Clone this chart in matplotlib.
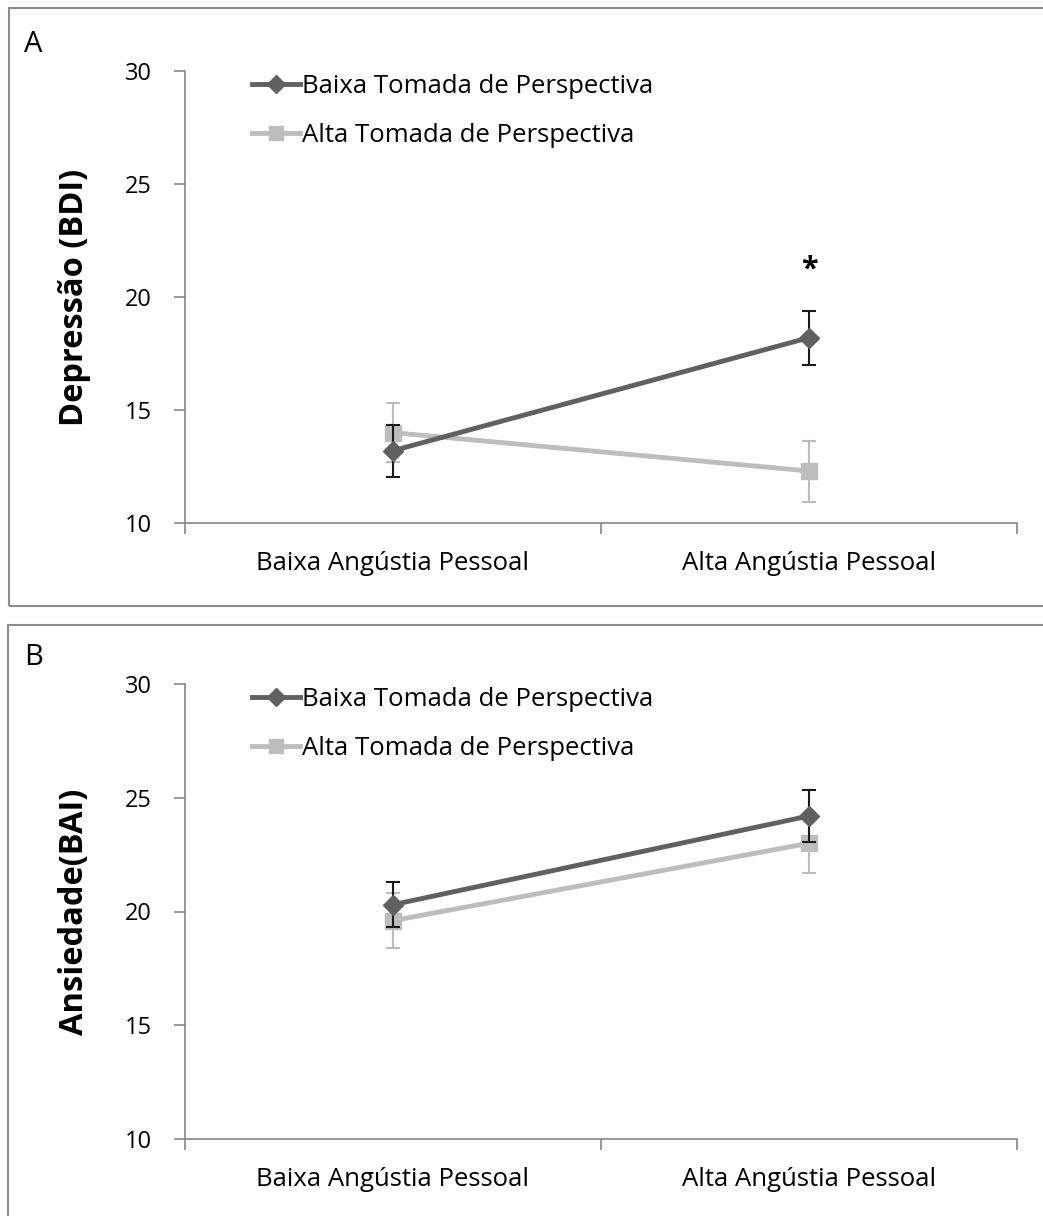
import matplotlib.pyplot as plt
from matplotlib.patches import Rectangle
from matplotlib.lines import Line2D

categories = ["Baixa Angústia Pessoal", "Alta Angústia Pessoal"]
series_names = ["Baixa Tomada de Perspectiva", "Alta Tomada de Perspectiva"]

bdi_baixa_tp = [13.2, 18.2]
bdi_baixa_tp_err = [1.15, 1.2]
bdi_alta_tp = [14.0, 12.3]
bdi_alta_tp_err = [1.3, 1.35]

bai_baixa_tp = [20.3, 24.2]
bai_baixa_tp_err = [1.0, 1.15]
bai_alta_tp = [19.6, 23.0]
bai_alta_tp_err = [1.2, 1.3]

yticks = [10, 15, 20, 25, 30]

W, H = 1043, 1216
fig = plt.figure(figsize=(W / 100, H / 100), dpi=100)
plt.rcParams['font.family'] = ['Open Sans', 'DejaVu Sans']

# panel frames
fig.add_artist(Rectangle((9 / W, 1 - 606 / H), 1.1, 598 / H, transform=fig.transFigure,
                         fill=False, edgecolor='#8c8c8c', lw=1.5))
fig.add_artist(Rectangle((8 / W, -0.1), 1.1, (0.1 + 1 - 625 / H), transform=fig.transFigure,
                         fill=False, edgecolor='#8c8c8c', lw=1.5))

dark = '#606060'
light = '#bdbdbd'
axcol = '#868686'


def panel(top, bottom, letter, ylabel, s1, e1, s2, e2, star=None):
    ax = fig.add_axes([185 / W, 1 - bottom / H, (1017 - 185) / W, (bottom - top) / H])
    x = [0, 1]
    ax.errorbar(x, s2, yerr=e2, color=light, ecolor=light, elinewidth=1.5, capsize=5,
                capthick=1.5, lw=3.5, marker='s', ms=11, mfc=light, mec=light, zorder=2)
    ax.errorbar(x, s1, yerr=e1, color=dark, ecolor='#1a1a1a', elinewidth=1.5, capsize=5,
                capthick=1.5, lw=3.5, marker='D', ms=10, mfc=dark, mec=dark, zorder=3)
    ax.set_xlim(-0.5, 1.5)
    ax.set_ylim(10, 30)
    ax.set_yticks(yticks)
    ax.set_xticks(x)
    ax.set_xticklabels(categories)
    ax.set_xticks([-0.5, 0.5, 1.5], minor=True)
    ax.tick_params(axis='x', which='major', length=0, pad=20, labelsize=18.5)
    ax.tick_params(axis='x', which='minor', length=8, color=axcol, width=1.2)
    ax.tick_params(axis='y', length=8, color=axcol, width=1.2, pad=16, labelsize=17)
    for s in ['top', 'right']:
        ax.spines[s].set_visible(False)
    for s in ['left', 'bottom']:
        ax.spines[s].set_color(axcol)
        ax.spines[s].set_linewidth(1.2)
    ax.set_ylabel(ylabel, fontsize=23.5, fontweight='bold', labelpad=24)
    handles = [Line2D([], [], color=dark, lw=3.5, marker='D', ms=9, mfc=dark, mec=dark),
               Line2D([], [], color=light, lw=3.5, marker='s', ms=10, mfc=light, mec=light)]
    ax.legend(handles, series_names, loc='upper left', bbox_to_anchor=(0.053, 1.045), frameon=False,
              fontsize=18.5, handlelength=1.85, handletextpad=0.1, labelspacing=0.95)
    if star is not None:
        ax.text(1, star, '*', ha='center', va='center', fontsize=22, fontweight='bold')
    fig.text(24 / W, 1 - (top - 26) / H, letter, fontsize=21, va='center', ha='left')
    return ax


panel(71, 523, 'A', 'Depressão (BDI)', bdi_baixa_tp, bdi_baixa_tp_err, bdi_alta_tp, bdi_alta_tp_err, star=21.2)
panel(684, 1139, 'B', 'Ansiedade(BAI)', bai_baixa_tp, bai_baixa_tp_err, bai_alta_tp, bai_alta_tp_err)

fig.savefig('out.png', dpi=100)
